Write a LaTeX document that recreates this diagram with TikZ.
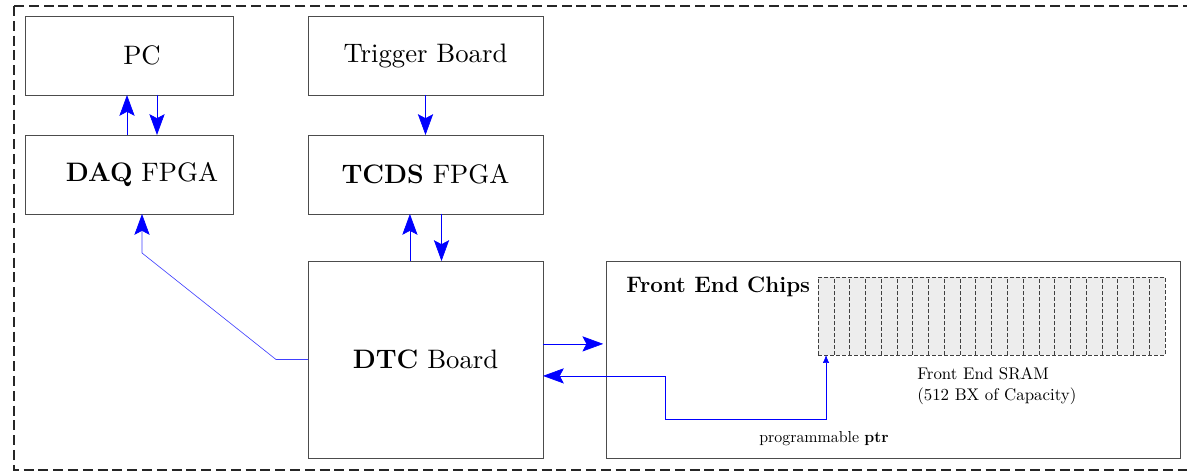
\documentclass[tikz,border=0pt]{standalone}
\usepackage{fontspec}
\setmainfont{lmroman10-regular.otf}[BoldFont=lmroman12-bold.otf]
\usetikzlibrary{arrows.meta,positioning}

\begin{document}
\begin{tikzpicture}[
    node distance=1cm and 1.875cm,
    box/.style={draw=black!70,minimum width=5.2cm,minimum height=1.975cm,
      outer sep=0pt,align=center,font=\fontsize{19}{22}\selectfont},
    widebox/.style={box,minimum width=5.875cm},
    offtext/.style={execute at begin node=\hspace*{0.65cm}},
    arr/.style={draw=blue,line width=0.45pt,-{Stealth[length=5.2mm,width=3.8mm,inset=1mm,color=blue]}},
    ptrarr/.style={draw=blue,line width=0.45pt,
      {Stealth[length=5.2mm,width=3.8mm,inset=1mm]}-{Latex[length=2mm,width=1.6mm]}},
    small/.style={font=\fontsize{11.3}{14.9}\selectfont,inner sep=0pt},
    >=Latex]
  \useasboundingbox (0,0) rectangle (29.675,-11.875);
  % outer frame (open on the right)
  \draw[black!85,line width=0.9pt,dash pattern=on 0.25cm off 0.12cm]
    (0.35,-0.15) rectangle (30.5,-11.75);

  \node[box,offtext] (pc) at (3.225,-1.3875) {PC};
  \node[widebox,right=of pc] (trigger) {Trigger Board};
  \node[box,offtext,below=of pc] (daq) {\textbf{DAQ} FPGA};
  \node[widebox,below=of trigger] (tcds) {\textbf{TCDS} FPGA};
  \node[widebox,below=1.175cm of tcds,minimum height=4.925cm] (dtc) {\textbf{DTC} Board};
  \node[box,right=1.575cm of dtc,minimum width=14.35cm,minimum height=4.925cm] (fe) {};

  % front end contents
  \node[inner sep=0pt,anchor=west,font=\fontsize{15.9}{18}\selectfont\bfseries]
    (felabel) at ([xshift=0.5cm,yshift=-0.65cm]fe.north west) {Front End Chips};
  \node[draw=black!75,dash pattern=on 0.09cm off 0.06cm,fill=black!7,
    minimum width=8.675cm,minimum height=1.95cm,outer sep=0pt,anchor=north west]
    (sram) at ([xshift=5.3cm,yshift=-0.4cm]fe.north west) {};
  \foreach \i in {1,...,21}
    \draw[black!75,dash pattern=on 0.09cm off 0.06cm]
      ([xshift=\i*0.3943cm]sram.south west) -- ([xshift=\i*0.3943cm]sram.north west);
  \node[small,font=\fontsize{12}{15}\selectfont,align=left,anchor=north west] (sramlabel)
    at ([xshift=2.475cm,yshift=-0.3cm]sram.south west)
    {Front End SRAM\\(512 BX of Capacity)};
  \node[small] (ptrlabel) at ([xshift=5.45cm,yshift=0.475cm]fe.south west)
    {programmable \textbf{ptr}};

  % connectors
  \draw[arr] ([xshift=-0.05cm]daq.north) -- ([xshift=-0.05cm]pc.south);
  \draw[arr] ([xshift=0.7cm]pc.south) -- ([xshift=0.7cm]daq.north);
  \draw[arr] (trigger) -- (tcds);
  \draw[arr] ([xshift=-0.39cm]dtc.north) -- ([xshift=-0.39cm]tcds.south);
  \draw[arr] ([xshift=0.4cm]tcds.south) -- ([xshift=0.4cm]dtc.north);
  \draw[arr,draw=blue!75] (dtc.west) -- ++(-0.8,0)
    -- ([xshift=0.325cm,yshift=-0.975cm]daq.south) -- ([xshift=0.325cm]daq.south);
  \draw[arr,shorten >=2pt] ([yshift=0.39cm]dtc.east) -- ([yshift=0.39cm]dtc.east -| fe.west);
  \coordinate (ptrcorner) at ([xshift=1.475cm,yshift=-1.49cm]fe.west);
  \coordinate (ptrtip) at ([xshift=0.2cm]sram.south west);
  \draw[ptrarr] ([yshift=-0.41cm]dtc.east) -| (ptrcorner) -| (ptrtip);
\end{tikzpicture}
\end{document}
